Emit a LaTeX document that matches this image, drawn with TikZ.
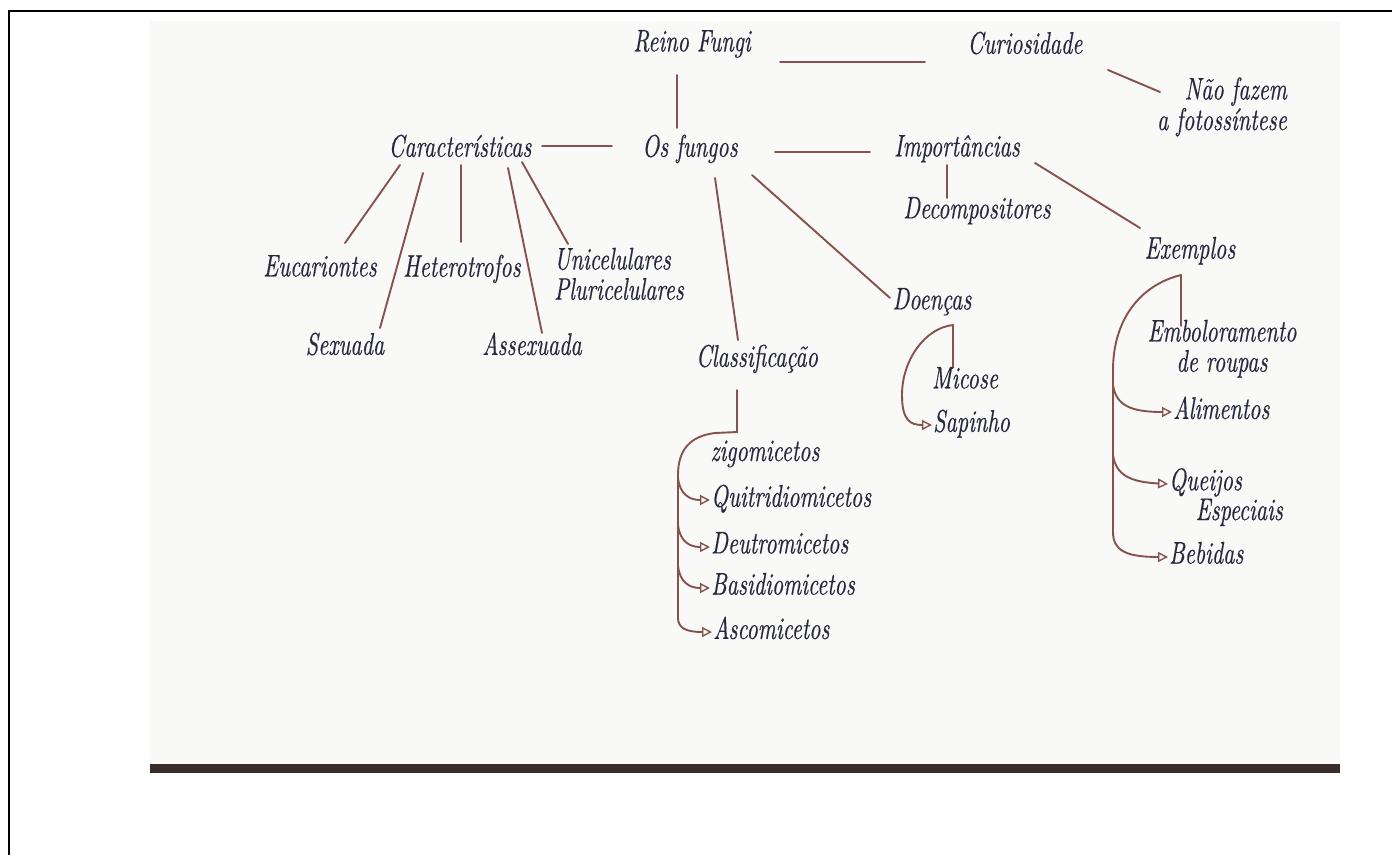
\documentclass[tikz,border=0pt]{standalone}
\usepackage{fontspec}
\usepackage{graphicx}
\newfontfamily\handfont[FakeBold=0.6]{lmroman10-italic.otf}
\usetikzlibrary{arrows.meta,calc}
\definecolor{ink}{RGB}{40,40,62}
\definecolor{brn}{RGB}{135,82,78}
\definecolor{paper}{RGB}{249,249,248}
\definecolor{barc}{RGB}{58,44,40}
\newcommand\hw[2][c]{\scalebox{0.92}[1.3]{\begin{tabular}{@{}#1@{}}#2\end{tabular}}}
\begin{document}
\begin{tikzpicture}[x=1pt,y=-1pt,
  lbl/.style={text=ink,font=\fontsize{24}{22}\selectfont\handfont,inner sep=1pt},
  conn/.style={draw=brn,line width=1.9pt,line cap=round},
  arr/.style={conn,-{Triangle[open,length=10pt,width=10pt,line width=1.4pt]}}]
\useasboundingbox (0,0) rectangle (1392,855);
\fill[white] (0,0) rectangle (1392,855);
\fill[paper] (150,21) rectangle (1340,770);
\fill[barc] (150,764) rectangle (1340,773);
\draw[black,line width=2pt] (1392,11) -- (9,11) -- (9,855);

% nodes
\node[lbl] (reino) at (692,45) {\hw{Reino Fungi}};
\node[lbl] (curi) at (1025,47) {\hw{Curiosidade}};
\node[lbl] (nao) at (1222,108) {\hw[r]{Não fazem\\a fotossíntese}};
\node[lbl] (fungos) at (690,150) {\hw{Os fungos}};
\node[lbl] (car) at (460,150) {\hw{Características}};
\node[lbl] (imp) at (957,150) {\hw{Importâncias}};
\node[lbl] (dec) at (977,212) {\hw{Decompositores}};
\node[lbl] (exe) at (1190,252) {\hw{Exemplos}};
\node[lbl] (euc) at (320,270) {\hw{Eucariontes}};
\node[lbl] (het) at (462,270) {\hw{Heterotrofos}};
\node[lbl] (uni) at (619,278) {\hw[l]{Unicelulares\\Pluricelulares}};
\node[lbl] (sex) at (345,348) {\hw{Sexuada}};
\node[lbl] (ass) at (532,348) {\hw{Assexuada}};
\node[lbl] (cla) at (757,360) {\hw{Classificação}};
\node[lbl] (doe) at (932,303) {\hw{Doenças}};
\node[lbl] (mic) at (965,382) {\hw{Micose}};
\node[lbl,anchor=west] (sap) at (932,425) {\hw{Sapinho}};
\node[lbl] (zig) at (765,455) {\hw{zigomicetos}};
\node[lbl,anchor=west] (qui) at (710,500) {\hw{Quitridiomicetos}};
\node[lbl,anchor=west] (deu) at (710,547) {\hw{Deutromicetos}};
\node[lbl,anchor=west] (bas) at (710,588) {\hw{Basidiomicetos}};
\node[lbl,anchor=west] (asc) at (712,632) {\hw{Ascomicetos}};
\node[lbl] (emb) at (1222,350) {\hw{Emboloramento\\de roupas}};
\node[lbl,anchor=west] (ali) at (1172,412) {\hw{Alimentos}};
\node[lbl,anchor=north west] (que) at (1168,467) {\hw[l]{Queijos\\\hspace*{1.2em}Especiais}};
\node[lbl,anchor=west] (beb) at (1168,557) {\hw{Bebidas}};

% connectors
\draw[conn] ($(reino)+(88,17)$) -- ($(curi)+(-100,15)$);
\draw[conn] ($(curi)+(83,23)$) -- ($(nao)+(-62,-16)$);
\draw[conn] ($(reino)+(-15,30)$) -- ($(fungos)+(-13,-22)$);
\draw[conn] ($(car)+(82,-4)$) -- ($(fungos)+(-78,-4)$);
\draw[conn] ($(fungos)+(85,2)$) -- ($(imp)+(-87,2)$);
\draw[conn] ($(imp)+(-10,15)$) -- ($(dec)+(-30,-14)$);
\draw[conn] ($(imp)+(78,13)$) -- ($(exe)+(-50,-24)$);
\draw[conn] ($(car)+(-60,15)$) -- ($(euc)+(25,-27)$);
\draw[conn] ($(car)+(-37,23)$) -- ($(sex)+(35,-20)$);
\draw[conn] ($(car)+(1,15)$) -- ($(het)+(-1,-28)$);
\draw[conn] ($(car)+(48,18)$) -- ($(ass)+(10,-15)$);
\draw[conn] ($(car)+(62,12)$) -- ($(uni)+(-51,-34)$);
\draw[conn] ($(fungos)+(25,28)$) -- ($(cla)+(-19,-20)$);
\draw[conn] ($(fungos)+(62,25)$) -- ($(doe)+(-42,-5)$);

% Doencas
\coordinate (dtop) at ($(doe)+(21,22)$);
\draw[conn] (dtop) -- ($(mic)+(-12,-15)$);
\draw[arr] (dtop) .. controls (925,328) and (902,360) .. (902,395)
  .. controls (902,420) and (910,425) .. (sap.west);

% Classificacao
\coordinate (ctop) at ($(cla)+(-20,30)$);
\draw[arr] (ctop) -- (737,432) -- (715,433) .. controls (690,436) and (678,450) .. (678,475)
  -- (678,618) .. controls (678,628) and (686,632) .. (asc.west);
\draw[arr] (678,478) .. controls (680,495) and (690,500) .. (qui.west);
\draw[arr] (678,525) .. controls (680,542) and (690,547) .. (deu.west);
\draw[arr] (678,566) .. controls (680,583) and (690,588) .. (bas.west);

% Exemplos
\coordinate (etop) at ($(exe)+(-9,23)$);
\draw[conn] (etop) -- ($(emb)+(-41,-24)$);
\draw[arr] (etop) .. controls (1140,285) and (1113,320) .. (1113,370)
  -- (1113,532) .. controls (1113,550) and (1125,557) .. (beb.west);
\draw[arr] (1113,385) .. controls (1116,405) and (1130,412) .. (ali.west);
\draw[arr] (1113,455) .. controls (1116,475) and (1130,482) .. ($(que.north west)!0.27!(que.south west)$);
\end{tikzpicture}
\end{document}
